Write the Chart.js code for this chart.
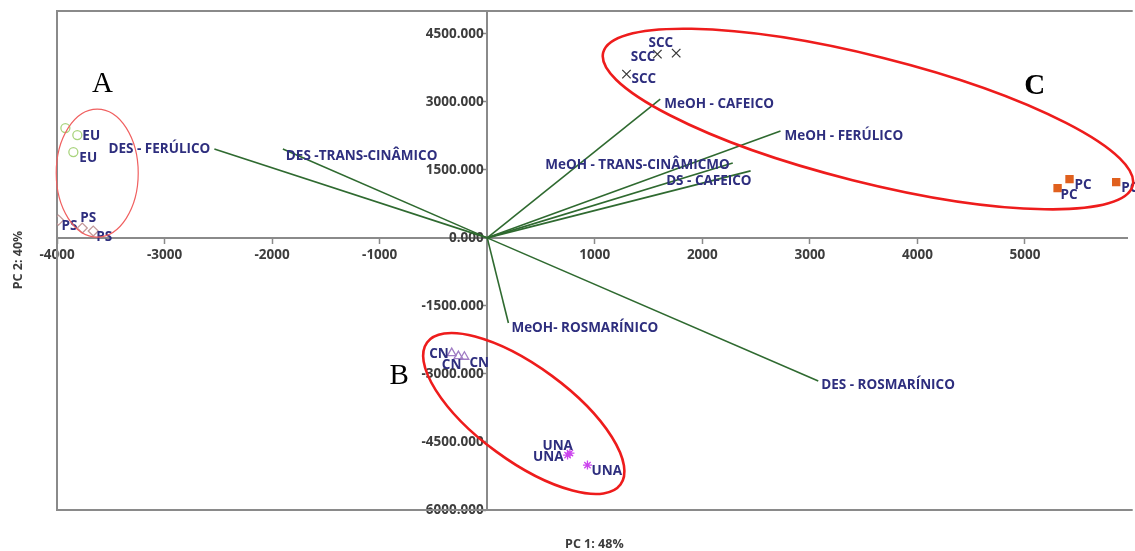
<!DOCTYPE html>
<html>
<head>
<meta charset="utf-8">
<script src="https://cdn.jsdelivr.net/npm/chart.js@4.4.1/dist/chart.umd.min.js"></script>
<style>
  body { margin: 0; background: #fff; }
  canvas { display: block; }
</style>
</head>
<body>
<canvas id="pcaChart" width="1135" height="551"></canvas>
<script>
// scores (PC1, PC2) per group
const euX = [-3922, -3811, -3848];
const euY = [2421, 2266, 1892];
const psX = [-3986, -3765, -3663];
const psY = [392, 216, 150];
const sccX = [1582, 1757, 1295];
const sccY = [4052, 4074, 3611];
const pcX = [5303, 5414, 5848];
const pcY = [1098, 1296, 1230];
const cnX = [-330, -268, -212];
const cnY = [-2540, -2606, -2621];
const unaX = [747, 769, 932];
const unaY = [-4788, -4744, -5010];

// loadings
const loadNames = ['DES - FERÚLICO', 'DES -TRANS-CINÂMICO', 'MeOH - CAFEICO', 'MeOH - FERÚLICO',
  'MeOH - TRANS-CINÂMICMO', 'DS - CAFEICO', 'MeOH- ROSMARÍNICO', 'DES - ROSMARÍNICO'];
const loadX = [-2537, -1900, 1609, 2727, 2283, 2449, 197, 3078];
const loadY = [1958, 1958, 3060, 2355, 1653, 1477, -1878, -3157];

const xTicks = [-4000, -3000, -2000, -1000, 0, 1000, 2000, 3000, 4000, 5000];
const yTicks = [-6000, -4500, -3000, -1500, 0, 1500, 3000, 4500];

// label placement: [align, dx, dy] in px from the mark
const groups = [
  { name: 'EU', xs: euX, ys: euY, style: 'circle', color: '#a9d47e', fill: false, r: 4.5,
    off: [null, ['left', 5, 1], ['left', 6, 6]] },
  { name: 'PS', xs: psX, ys: psY, style: 'rectRot', color: '#c49a9a', fill: false, r: 5,
    off: [['left', 3, 6], ['left', -2, -10], ['left', 3, 6]] },
  { name: 'SCC', xs: sccX, ys: sccY, style: 'crossRot', color: '#3a3a3a', fill: false, r: 6,
    off: [['right', -2, 3], ['right', -3, -10], ['left', 5, 5]] },
  { name: 'PC', xs: pcX, ys: pcY, style: 'rect', color: '#e0601e', fill: true, r: 5,
    off: [['left', 3, 7], ['left', 5, 6], ['left', 5, 6]] },
  { name: 'CN', xs: cnX, ys: cnY, style: 'triangle', color: '#a07cc4', fill: false, r: 5,
    off: [['right', -3, 1], ['right', 3, 9], ['left', 5, 6]] },
  { name: 'UNA', xs: unaX, ys: unaY, style: 'star', color: '#cc44ee', fill: false, r: 4.5,
    off: [['right', -4, 2], ['right', 3, -7], ['left', 4, 6]] }
];
const loadLabel = [['right', -4, 0], ['left', 3, 7], ['left', 4, 5], ['left', 4, 5],
  ['right', -3, 2], ['right', 1, 10], ['left', 3, 5], ['left', 3, 4]];

// hand-drawn marks on the figure: centre in data units, radii/angle in px
const marks = [
  { cx: -3626, cy: 1429, rx: 41, ry: 64, rot: 0, w: 1.2, color: '#f06060' },
  { cx: 340, cy: -3873, rx: 120, ry: 47, rot: 36.3, w: 2.6, color: '#ee1c1c' },
  { cx: 3540, cy: 2620, rx: 273, ry: 63, rot: 14.1, w: 2.6, color: '#ee1c1c' }
];
const letters = [
  { t: 'A', x: -3577, y: 3386, bold: false },
  { t: 'B', x: -818, y: -3047, bold: false },
  { t: 'C', x: 5090, y: 3347, bold: true }
];

const labelFont = 'bold 13.5px "Open Sans"';
const labelColor = '#2e2e7e';

const datasets = [];
groups.forEach(g => {
  datasets.push({
    label: g.name,
    data: g.xs.map((x, i) => ({ x: x, y: g.ys[i] })),
    pointStyle: g.style,
    pointRadius: g.r,
    borderColor: g.color,
    backgroundColor: g.fill ? g.color : 'rgba(0,0,0,0)',
    pointBorderWidth: 1.3,
    showLine: false
  });
});
loadNames.forEach((n, i) => {
  datasets.push({
    label: n,
    data: [{ x: 0, y: 0 }, { x: loadX[i], y: loadY[i] }],
    showLine: true,
    borderColor: '#2f6a30',
    borderWidth: 1.6,
    pointRadius: 0
  });
});

const decor = {
  id: 'decor',
  beforeDatasetsDraw(chart) {
    const { ctx, chartArea: a } = chart;
    ctx.save();
    ctx.strokeStyle = '#8a8a8a';
    ctx.lineWidth = 2;
    ctx.beginPath();
    ctx.moveTo(a.right + 5, a.top);
    ctx.lineTo(a.left, a.top);
    ctx.lineTo(a.left, a.bottom);
    ctx.lineTo(a.right + 5, a.bottom);
    ctx.stroke();
    ctx.restore();
  },
  afterDatasetsDraw(chart) {
    const { ctx } = chart;
    const xs = chart.scales.x, ys = chart.scales.y;
    ctx.save();
    ctx.font = labelFont;
    ctx.fillStyle = labelColor;
    ctx.textBaseline = 'middle';
    groups.forEach((g, gi) => {
      const meta = chart.getDatasetMeta(gi);
      meta.data.forEach((p, i) => {
        const o = g.off[i];
        if (!o) return;
        ctx.textAlign = o[0];
        ctx.fillText(g.name, p.x + o[1], p.y + o[2]);
      });
    });
    loadNames.forEach((n, i) => {
      const p = chart.getDatasetMeta(groups.length + i).data[1];
      const l = loadLabel[i];
      ctx.textAlign = l[0];
      ctx.fillText(n, p.x + l[1], p.y + l[2]);
    });
    // group ellipses
    marks.forEach(m => {
      ctx.beginPath();
      ctx.strokeStyle = m.color;
      ctx.lineWidth = m.w;
      ctx.ellipse(xs.getPixelForValue(m.cx), ys.getPixelForValue(m.cy), m.rx, m.ry,
        m.rot * Math.PI / 180, 0, Math.PI * 2);
      ctx.stroke();
    });
    ctx.fillStyle = '#000';
    ctx.textAlign = 'center';
    letters.forEach(l => {
      ctx.font = (l.bold ? 'bold ' : '') + '29px "Liberation Serif"';
      ctx.fillText(l.t, xs.getPixelForValue(l.x), ys.getPixelForValue(l.y));
    });
    // axis titles
    ctx.fillStyle = '#3c3c3c';
    ctx.font = 'bold 12.5px "Open Sans"';
    ctx.fillText('PC 1: 48%', (xs.left + xs.right) / 2 + 2, 544);
    ctx.translate(18, 260);
    ctx.rotate(-Math.PI / 2);
    ctx.fillText('PC 2: 40%', 0, 0);
    ctx.restore();
  }
};

const tickFont = { family: 'Open Sans', size: 13.5, weight: 'bold' };

new Chart(document.getElementById('pcaChart'), {
  type: 'scatter',
  data: { datasets: datasets },
  options: {
    responsive: false,
    animation: false,
    layout: { padding: { left: 57, top: 11, right: 0, bottom: 41 } },
    plugins: { legend: { display: false }, tooltip: { enabled: false } },
    scales: {
      x: {
        type: 'linear',
        position: { y: 0 },
        min: -4000,
        max: 5955,
        afterBuildTicks: s => { s.ticks = xTicks.map(v => ({ value: v })); },
        ticks: {
          callback: v => v === 0 ? '' : v,
          font: tickFont,
          color: '#3c3c3c',
          padding: 4,
          maxRotation: 0
        },
        grid: { drawOnChartArea: false, tickLength: 5, color: '#8a8a8a', tickWidth: 1.5 },
        border: { color: '#8a8a8a', width: 2 }
      },
      y: {
        type: 'linear',
        position: { x: 0 },
        min: -6000,
        max: 5000,
        afterBuildTicks: s => { s.ticks = yTicks.map(v => ({ value: v })); },
        ticks: {
          callback: v => v.toFixed(3) + ' ',
          font: tickFont,
          color: '#3c3c3c',
          padding: 3
        },
        grid: { drawOnChartArea: false, tickLength: 5, color: '#8a8a8a', tickWidth: 1.5 },
        border: { color: '#8a8a8a', width: 2 }
      }
    }
  },
  plugins: [decor]
});
</script>
</body>
</html>
